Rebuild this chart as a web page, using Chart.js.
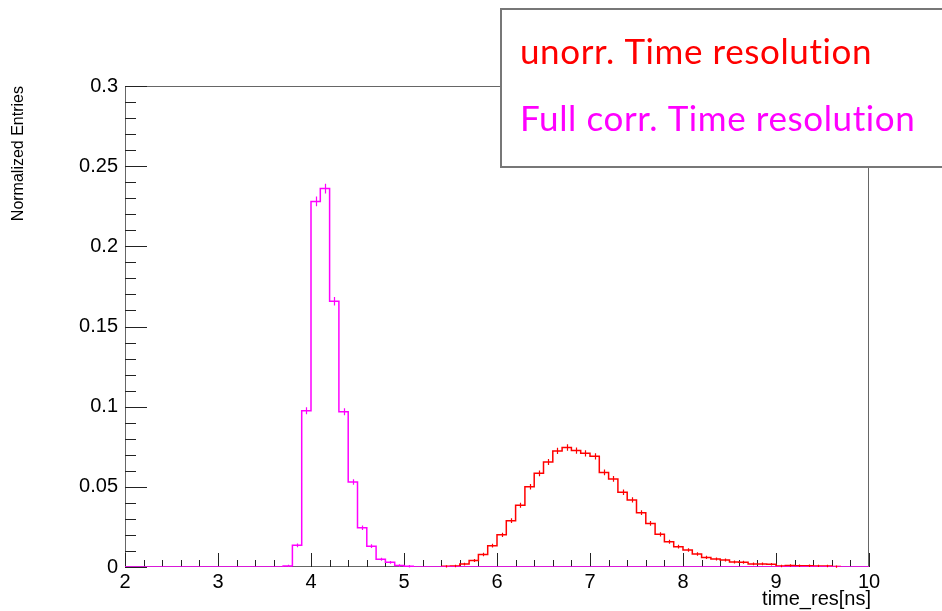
<!DOCTYPE html>
<html>
<head>
<meta charset="utf-8">
<style>
  html, body { margin: 0; padding: 0; background: #ffffff; }
  #wrap { width: 942px; height: 611px; position: relative; }
</style>
<script src="https://cdn.jsdelivr.net/npm/chart.js@4.4.1/dist/chart.umd.min.js"></script>
</head>
<body>
<div id="wrap"><canvas id="c" width="942" height="611"></canvas></div>
<script>
// Histogram binning: 80 bins of 0.1 ns covering 2–10 ns
const binStart = 2.0;
const binWidth = 0.1;
const binCount = 80;

// Normalized entries per bin, uncorrected time resolution
const uncorrected = [
  0, 0, 0, 0, 0, 0, 0, 0, 0, 0,
  0, 0, 0, 0, 0, 0, 0, 0, 0, 0,
  0, 0, 0, 0, 0, 0, 0, 0, 0, 0,
  0, 0, 0, 0, 0.0004, 0.0006, 0.0018, 0.0040, 0.0078, 0.0133,
  0.0201, 0.0289, 0.0385, 0.0500, 0.0584, 0.0655, 0.0724, 0.0745, 0.0726, 0.0709,
  0.0690, 0.0590, 0.0549, 0.0466, 0.0418, 0.0339, 0.0272, 0.0204, 0.0158, 0.0127,
  0.0106, 0.0081, 0.0060, 0.0050, 0.0044, 0.0031, 0.0030, 0.0019, 0.0019, 0.0017,
  0.0006, 0.0010, 0.0008, 0.0008, 0.0007, 0.0006, 0.0003, 0, 0, 0
];

// Normalized entries per bin, fully corrected time resolution
const fullCorrected = [
  0, 0, 0, 0, 0, 0, 0, 0, 0, 0,
  0, 0, 0, 0, 0, 0, 0, 0.0007, 0.0135, 0.0975,
  0.2280, 0.2360, 0.1657, 0.0969, 0.0530, 0.0245, 0.0130, 0.0048, 0.0029, 0.0010,
  0.0005, 0, 0, 0, 0, 0, 0, 0, 0, 0,
  0, 0, 0, 0, 0, 0, 0, 0, 0, 0,
  0, 0, 0, 0, 0, 0, 0, 0, 0, 0,
  0, 0, 0, 0, 0, 0, 0, 0, 0, 0,
  0, 0, 0, 0, 0, 0, 0, 0, 0, 0
];

const xRange = [2, 10];
const yRange = [0, 0.3];
const seriesNames = ["unorr. Time resolution", "Full corr. Time resolution"];
const seriesColors = ["#ff0000", "#ff00ff"];
const xTitle = "time_res[ns]";
const yTitle = "Normalized Entries";

const AXIS_FONT = "'Liberation Sans', Arial, Helvetica, sans-serif";
const LEGEND_FONT = "Lato, 'Open Sans', sans-serif";
const LEGEND_SPACING = 0.6;

// Step outline points at bin lower edges, closed at the upper edge of the last bin.
// With trim=true only the span between the first and last filled bins is drawn.
function stepPoints(values, trim) {
  let first = 0, last = values.length - 1;
  if (trim) {
    first = values.findIndex(v => v > 0);
    for (let i = values.length - 1; i >= 0; i--) { if (values[i] > 0) { last = i; break; } }
  }
  const pts = [];
  for (let i = first; i <= last; i++) {
    pts.push({ x: binStart + i * binWidth, y: values[i] });
  }
  pts.push({ x: binStart + (last + 1) * binWidth, y: values[last] });
  return pts;
}

// Frame and inward-pointing tick marks
const framePlugin = {
  id: 'frameTicks',
  beforeDatasetsDraw(chart) {
    const { ctx, chartArea: a, scales: { x, y } } = chart;
    ctx.save();
    ctx.strokeStyle = '#666666';
    ctx.lineWidth = 1;
    ctx.strokeRect(a.left + 0.5, a.top + 0.5, a.right - a.left - 1, a.bottom - a.top - 1);
    ctx.strokeStyle = '#222222';
    ctx.beginPath();
    // x axis: primary every 1 ns, secondary every 0.2 ns
    for (let k = 0; k <= 40; k++) {
      const v = xRange[0] + k * 0.2;
      const px = Math.round(x.getPixelForValue(v)) + 0.5;
      const len = (k % 5 === 0) ? 14 : 7;
      ctx.moveTo(px, a.bottom);
      ctx.lineTo(px, a.bottom - len);
    }
    // y axis: primary every 0.05, secondary every 0.01
    for (let k = 0; k <= 30; k++) {
      const v = k * 0.01;
      const py = Math.round(y.getPixelForValue(v)) + 0.5;
      const len = (k % 5 === 0) ? 22 : 11;
      ctx.moveTo(a.left, py);
      ctx.lineTo(a.left + len, py);
    }
    ctx.stroke();
    ctx.restore();
  },
  afterDatasetsDraw(chart) {
    // statistical error markers at bin centres
    const { ctx, scales: { x, y } } = chart;
    const sets = [uncorrected, fullCorrected];
    ctx.save();
    ctx.lineWidth = 1.2;
    sets.forEach((vals, s) => {
      ctx.strokeStyle = seriesColors[s];
      ctx.beginPath();
      vals.forEach((v, i) => {
        if (v <= 0) return;
        const cx = Math.round(x.getPixelForValue(binStart + (i + 0.5) * binWidth)) + 0.5;
        const cy = y.getPixelForValue(v);
        const h = 1 + 8 * Math.sqrt(v);
        ctx.moveTo(cx, cy - h);
        ctx.lineTo(cx, cy + h);
      });
      ctx.stroke();
    });
    ctx.restore();
  },
  afterDraw(chart) {
    const { ctx, chartArea: a } = chart;
    ctx.save();
    // axis titles, right-aligned to the axis ends
    ctx.fillStyle = '#000000';
    ctx.font = `20px ${AXIS_FONT}`;
    ctx.textAlign = 'right';
    ctx.textBaseline = 'alphabetic';
    ctx.fillText(xTitle, a.right + 2, 605);
    ctx.translate(23, a.top);
    ctx.rotate(-Math.PI / 2);
    ctx.font = `16px ${AXIS_FONT}`;
    ctx.textAlign = 'right';
    ctx.fillText(yTitle, 0, 0);
    ctx.restore();

    // legend box
    ctx.save();
    ctx.fillStyle = '#ffffff';
    ctx.fillRect(501, 9, 460, 158);
    ctx.strokeStyle = '#777777';
    ctx.lineWidth = 2;
    ctx.strokeRect(501, 9, 460, 158);
    ctx.letterSpacing = '0px';
    ctx.font = `100px ${LEGEND_FONT}`;
    const w = ctx.measureText(seriesNames[1]).width;
    const size = 100 * (396 - LEGEND_SPACING * seriesNames[1].length) / w;
    ctx.letterSpacing = `${LEGEND_SPACING}px`;
    ctx.font = `${size.toFixed(2)}px ${LEGEND_FONT}`;
    ctx.textAlign = 'left';
    ctx.textBaseline = 'alphabetic';
    ctx.fillStyle = seriesColors[0];
    ctx.fillText(seriesNames[0], 520, 64);
    ctx.fillStyle = seriesColors[1];
    ctx.fillText(seriesNames[1], 520, 131);
    ctx.restore();
  }
};

new Chart(document.getElementById('c'), {
  type: 'line',
  data: {
    datasets: [
      {
        label: seriesNames[0],
        data: stepPoints(uncorrected, true),
        borderColor: seriesColors[0],
        borderWidth: 1.5,
        stepped: 'before',
        pointRadius: 0,
        fill: false,
        order: 1
      },
      {
        label: seriesNames[1],
        data: stepPoints(fullCorrected, false),
        borderColor: seriesColors[1],
        borderWidth: 1.5,
        stepped: 'before',
        pointRadius: 0,
        fill: false,
        order: 0
      }
    ]
  },
  options: {
    responsive: false,
    animation: false,
    events: [],
    layout: { padding: { top: 86, right: 73, left: 0, bottom: 0 } },
    plugins: { legend: { display: false }, tooltip: { enabled: false } },
    scales: {
      x: {
        type: 'linear',
        min: xRange[0],
        max: xRange[1],
        grid: { display: false, drawTicks: false },
        border: { display: false },
        ticks: {
          stepSize: 1,
          padding: 3,
          color: '#000000',
          font: { family: AXIS_FONT, size: 20 },
          maxRotation: 0,
          callback: v => String(Math.round(v))
        },
        afterFit(scale) { scale.height = 44; }
      },
      y: {
        type: 'linear',
        min: yRange[0],
        max: yRange[1],
        grid: { display: false, drawTicks: false },
        border: { display: false },
        ticks: {
          stepSize: 0.05,
          padding: 7,
          color: '#000000',
          font: { family: AXIS_FONT, size: 20 },
          callback: v => String(Number(v.toFixed(2)))
        },
        afterFit(scale) { scale.width = 125; }
      }
    }
  },
  plugins: [framePlugin]
});
</script>
</body>
</html>
